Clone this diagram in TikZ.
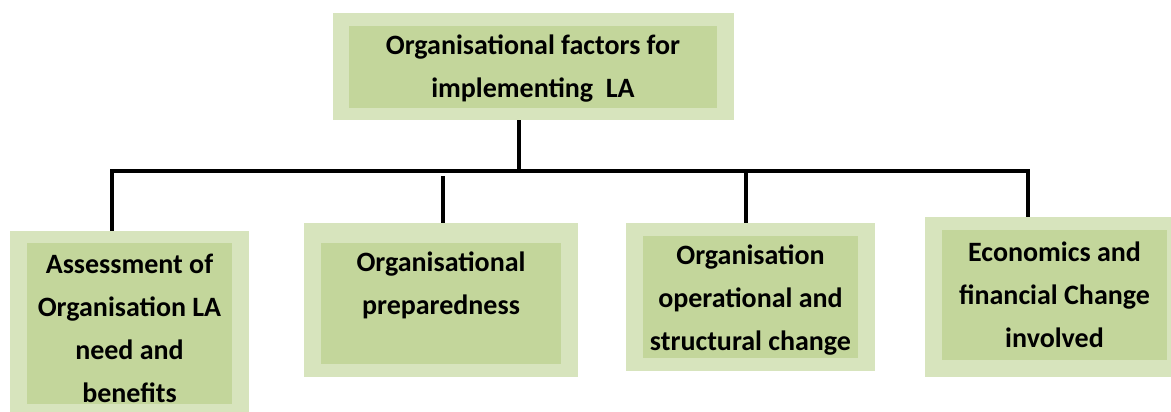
\documentclass[tikz,border=0pt]{standalone}
\usepackage{fontspec}
\setmainfont{Carlito}
\definecolor{outerg}{HTML}{D7E4BD}
\definecolor{innerg}{HTML}{C3D69B}
\begin{document}
\begin{tikzpicture}[x=1pt,y=-1pt,
  outerbox/.style={fill=outerg, draw=none, inner sep=0pt},
  innerbox/.style={fill=innerg, draw=none, inner sep=0pt},
  lbl/.style={align=center, inner sep=0pt, font=\fontsize{28}{43}\selectfont\bfseries},
  conn/.style={line width=3.6pt, black}]
\useasboundingbox (0,0) rectangle (1171,412);
% top
\node[outerbox, minimum width=401pt, minimum height=107pt] (to) at (533.5,66.5) {};
\node[innerbox, minimum width=368pt, minimum height=82pt] (ti) at (533,67) {};
\node[lbl] (tt) at (533,69) {Organisational factors for\\implementing\ \ LA};
% box 1
\node[outerbox, minimum width=239pt, minimum height=190pt] (o1) at (129.5,326) {};
\node[innerbox, minimum width=205pt, minimum height=161pt] (i1) at (129.5,323.5) {};
\node[lbl] (t1) at (129.5,328) {Assessment of\\Organisation LA\\need and\\benefits};
% box 2
\node[outerbox, minimum width=274pt, minimum height=154pt] (o2) at (441,300) {};
\node[innerbox, minimum width=240pt, minimum height=121pt] (i2) at (441,303.5) {};
\node[lbl] (t2) at (441,285) {Organisational\\preparedness};
% box 3
\node[outerbox, minimum width=249pt, minimum height=148pt] (o3) at (750.5,297) {};
\node[innerbox, minimum width=215pt, minimum height=122pt] (i3) at (750.5,297) {};
\node[lbl] (t3) at (750.5,300) {Organisation\\operational and\\structural change};
% box 4
\node[outerbox, minimum width=250pt, minimum height=160pt] (o4) at (1050,297) {};
\node[innerbox, minimum width=225pt, minimum height=130pt] (i4) at (1054.5,295) {};
\node[lbl] (t4) at (1054.5,295) {Economics and\\financial Change\\involved};
% bus
\coordinate (bt) at (519,171);
\coordinate (b1) at (112,171);
\coordinate (b2) at (443,171);
\coordinate (b3) at (746,171);
\coordinate (b4) at (1028,171);
\draw[conn] (to.south -| bt) -- (bt);
\draw[conn] (b1 |- o1.north) -- (b1) -- (b4) -- (b4 |- o4.north);
\draw[conn] (b2) ++(0,5) -- (b2 |- o2.north);
\draw[conn] (b3) -- (b3 |- o3.north);
\end{tikzpicture}
\end{document}
